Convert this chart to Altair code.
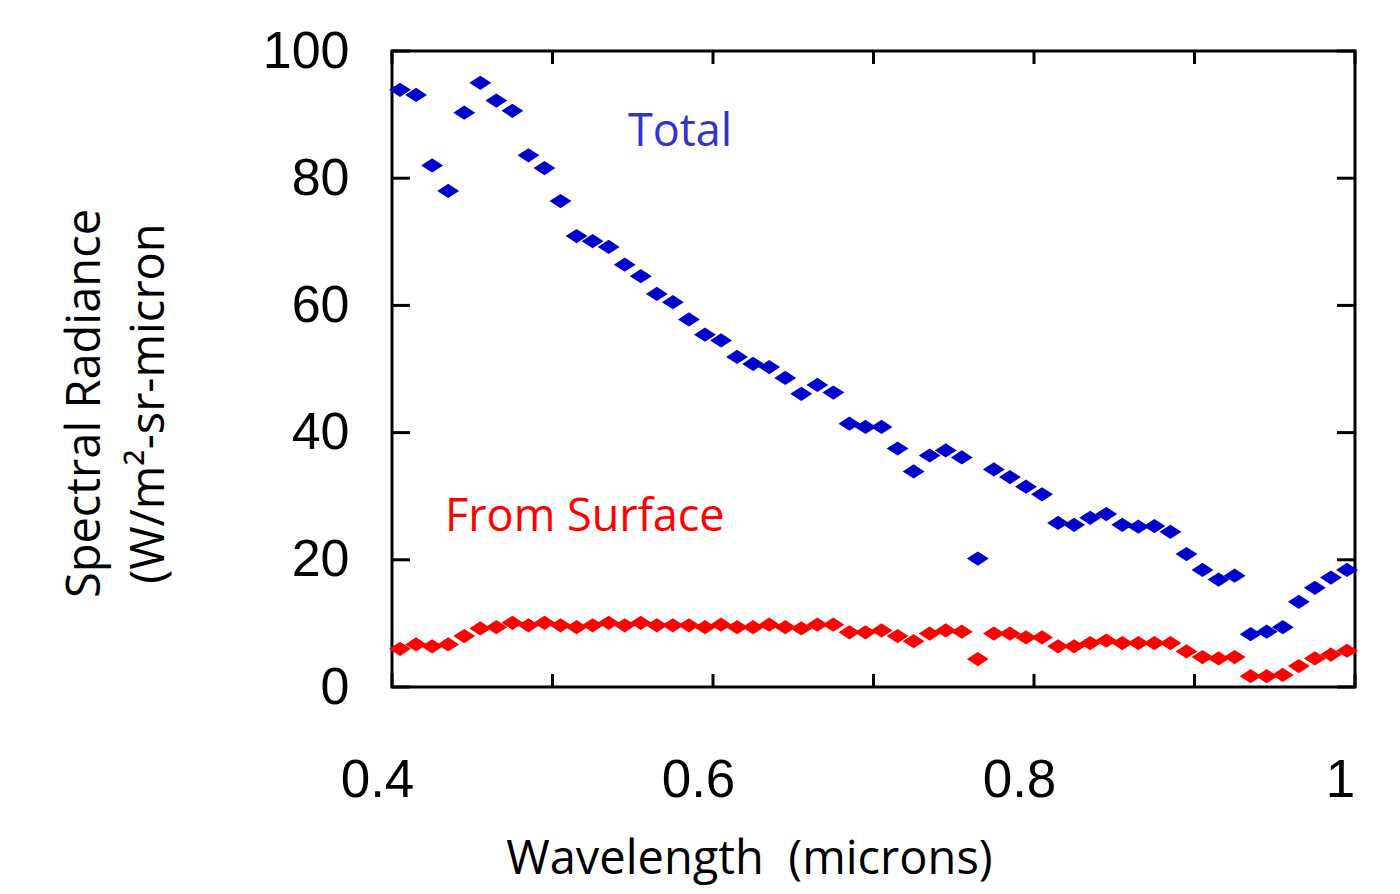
import altair as alt
import pandas as pd

# ---- data ----
wavelength = [0.405, 0.415, 0.425, 0.435, 0.445, 0.455, 0.465, 0.475, 0.485, 0.495,
              0.505, 0.515, 0.525, 0.535, 0.545, 0.555, 0.565, 0.575, 0.585, 0.595,
              0.605, 0.615, 0.625, 0.635, 0.645, 0.655, 0.665, 0.675, 0.685, 0.695,
              0.705, 0.715, 0.725, 0.735, 0.745, 0.755, 0.765, 0.775, 0.785, 0.795,
              0.805, 0.815, 0.825, 0.835, 0.845, 0.855, 0.865, 0.875, 0.885, 0.895,
              0.905, 0.915, 0.925, 0.935, 0.945, 0.955, 0.965, 0.975, 0.985, 0.995]
total = [93.9, 93.1, 82.0, 78.0, 90.3, 95.0, 92.2, 90.6, 83.6, 81.6,
         76.4, 70.9, 70.1, 69.2, 66.4, 64.6, 61.8, 60.5, 57.8, 55.4,
         54.5, 51.9, 50.8, 50.3, 48.6, 46.1, 47.5, 46.3, 41.4, 40.9,
         40.9, 37.5, 33.9, 36.4, 37.2, 36.1, 20.2, 34.2, 33.0, 31.5,
         30.3, 25.8, 25.5, 26.6, 27.2, 25.5, 25.2, 25.3, 24.4, 20.9,
         18.4, 16.9, 17.5, 8.3, 8.7, 9.4, 13.4, 15.6, 17.2, 18.4]
surface = [6.0, 6.7, 6.4, 6.7, 8.0, 9.2, 9.4, 10.1, 9.7, 10.1,
           9.7, 9.4, 9.7, 10.1, 9.7, 10.1, 9.7, 9.7, 9.7, 9.4,
           9.8, 9.4, 9.4, 9.8, 9.4, 9.2, 9.8, 9.8, 8.6, 8.6,
           8.9, 8.0, 7.2, 8.4, 8.9, 8.7, 4.4, 8.4, 8.4, 7.8,
           7.8, 6.4, 6.4, 6.9, 7.3, 6.9, 6.9, 6.9, 6.9, 5.6,
           4.7, 4.5, 4.7, 1.7, 1.7, 1.9, 3.3, 4.5, 5.1, 5.7]

x_tick_values = [0.4, 0.5, 0.6, 0.7, 0.8, 0.9, 1.0]
x_label_values = [0.4, 0.6, 0.8, 1.0]
y_tick_values = [0, 20, 40, 60, 80, 100]

label_text = ["Total", "From Surface"]
label_x = [0.547, 0.433]
label_y = [85.0, 24.5]
label_color = ["#3333CC", "#FF0000"]

W, H = 963, 636

df = pd.DataFrame({"wavelength": wavelength, "total": total, "surface": surface})
xt = pd.DataFrame({"t": x_tick_values})
yt = pd.DataFrame({"v": y_tick_values})
labels = pd.DataFrame({"label": label_text, "x": label_x, "y": label_y, "color": label_color})

xscale = alt.Scale(domain=[0.4, 1.0], nice=False, zero=False)
yscale = alt.Scale(domain=[0, 100], nice=False)
diamond = "M-1,0L0,-0.65L1,0L0,0.65Z"

xaxis = alt.Axis(values=x_label_values, format="~g", ticks=False, domain=False, grid=False,
                 labelFont="Liberation Sans", labelFontSize=53, labelColor="black",
                 labelPadding=67, labelOffset=-15, labelFlush=False, labelOverlap=False,
                 title="Wavelength \u00a0(microns)", titleFont="Open Sans", titleFontSize=47,
                 titleFontWeight="normal", titleColor="black", titleX=357, titleY=186,
                 titleBaseline="alphabetic", titleAlign="center")
yaxis = alt.Axis(values=y_tick_values, ticks=False, domain=False, grid=False,
                 labelFont="Liberation Sans", labelFontSize=52, labelColor="black",
                 labelPadding=43, labelFlush=False, labelOverlap=False,
                 title=["Spectral Radiance", "(W/m\u00b2-sr-micron"], titleFont="Open Sans",
                 titleFontSize=47, titleFontWeight="normal", titleColor="black",
                 titleAngle=270, titleX=-293, titleY=352, titleAlign="center",
                 titleBaseline="alphabetic", titleLineHeight=64)

blue = alt.Chart(df).mark_point(shape=diamond, size=480, filled=True, color="#0000CC",
                                opacity=1, strokeWidth=0).encode(
    x=alt.X("wavelength:Q", scale=xscale, axis=xaxis),
    y=alt.Y("total:Q", scale=yscale, axis=yaxis))
red = alt.Chart(df).mark_point(shape=diamond, size=480, filled=True, color="#FF0000",
                               opacity=1, strokeWidth=0).encode(
    x=alt.X("wavelength:Q", scale=xscale, axis=xaxis),
    y=alt.Y("surface:Q", scale=yscale, axis=yaxis))

tick_bottom = alt.Chart(xt).mark_rule(color="black", strokeWidth=3).encode(
    x=alt.X("t:Q", scale=xscale, axis=xaxis), y=alt.value(H), y2=alt.value(H - 13))
tick_top = alt.Chart(xt).mark_rule(color="black", strokeWidth=3).encode(
    x=alt.X("t:Q", scale=xscale, axis=xaxis), y=alt.value(0), y2=alt.value(13))
tick_left = alt.Chart(yt).mark_rule(color="black", strokeWidth=3).encode(
    y=alt.Y("v:Q", scale=yscale, axis=yaxis), x=alt.value(0), x2=alt.value(18))
tick_right = alt.Chart(yt).mark_rule(color="black", strokeWidth=3).encode(
    y=alt.Y("v:Q", scale=yscale, axis=yaxis), x=alt.value(W), x2=alt.value(W - 18))

text = alt.Chart(labels).mark_text(font="Open Sans", fontSize=45, align="left",
                                   baseline="alphabetic").encode(
    x=alt.X("x:Q", scale=xscale, axis=xaxis),
    y=alt.Y("y:Q", scale=yscale, axis=yaxis),
    text="label:N",
    color=alt.Color("color:N", scale=None))

chart = alt.layer(blue, red, tick_bottom, tick_top, tick_left, tick_right, text).properties(
    width=W, height=H,
    autosize=alt.AutoSizeParams(type="none"),
    padding={"left": 384, "top": 43, "right": 37, "bottom": 200},
).configure_view(stroke="black", strokeWidth=3)

chart.save("out.html", embed_options={"renderer": "svg", "actions": False})
